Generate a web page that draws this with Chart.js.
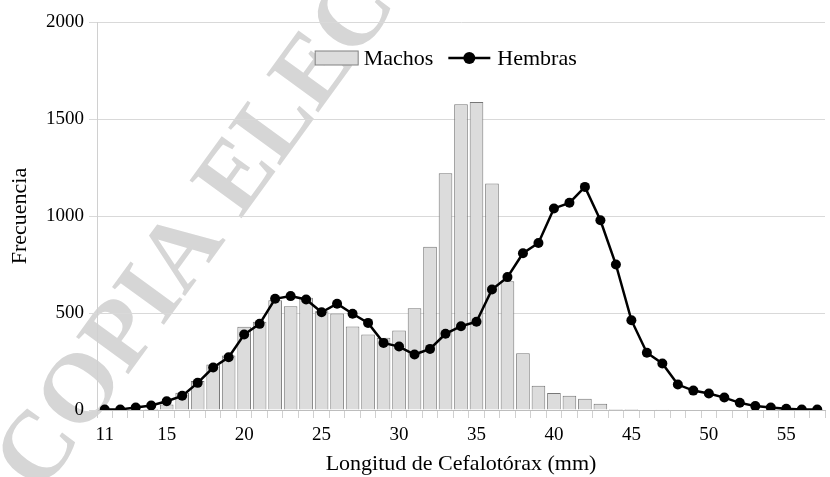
<!DOCTYPE html>
<html>
<head>
<meta charset="utf-8">
<script src="https://cdn.jsdelivr.net/npm/chart.js@4/dist/chart.umd.min.js"></script>
<style>
html,body{margin:0;padding:0;background:#fff;}
#wrap{width:830px;height:477px;position:relative;}
</style>
</head>
<body>
<div id="wrap"><canvas id="c" width="830" height="477"></canvas></div>
<script>
const categories = [11,12,13,14,15,16,17,18,19,20,21,22,23,24,25,26,27,28,29,30,31,32,33,34,35,36,37,38,39,40,41,42,43,44,45,46,47,48,49,50,51,52,53,54,55,56,57];
const machos = [0,0,0,5,28,89,149,235,281,429,455,566,535,578,509,497,430,389,372,410,525,841,1221,1576,1588,1168,664,293,125,88,73,58,32,5,5,0,4,0,0,0,0,0,0,0,0,0,0];
const hembras = [2,3,13,23,45,73,140,219,272,389,444,573,587,570,504,548,496,449,346,327,286,315,393,432,455,621,685,808,861,1039,1068,1150,978,750,463,295,240,131,100,85,64,37,20,13,6,3,2];
const xTickLabels = ['11','15','20','25','30','35','40','45','50','55'];
const seriesNames = ['Machos','Hembras'];
const xTitle = 'Longitud de Cefalotórax (mm)';
const yTitle = 'Frecuencia';
const watermark = 'COPIA ELECTRÓNICA';

const SERIF = "'Liberation Serif', 'Times New Roman', serif";

const watermarkPlugin = {
  id: 'watermark',
  beforeDraw(chart){
    const ctx = chart.ctx;
    ctx.save();
    ctx.translate(20, 480);
    ctx.rotate(-54 * Math.PI / 180);
    ctx.font = "bold 98px " + SERIF;
    ctx.fillStyle = '#d6d6d6';
    ctx.textBaseline = 'middle';
    ctx.textAlign = 'left';
    ctx.fillText(watermark, 0, 0);
    ctx.restore();
  }
};

const legendPlugin = {
  id: 'customLegend',
  afterDatasetsDraw(chart){
    const ctx = chart.ctx;
    const ca = chart.chartArea;
    ctx.save();
    ctx.font = "22px " + SERIF;
    const w1 = ctx.measureText(seriesNames[0]).width;
    const w2 = ctx.measureText(seriesNames[1]).width;
    const total = 44 + 5 + w1 + 15 + 42 + 7 + w2;
    const cx = ca.left + (ca.right - ca.left) * 0.479;
    let x = cx - total / 2;
    const cy = ca.top + 36;
    ctx.fillStyle = '#dcdcdc';
    ctx.fillRect(x + 0.5, cy - 7, 43, 14);
    ctx.strokeStyle = '#808080';
    ctx.lineWidth = 1;
    ctx.strokeRect(x + 0.5, cy - 7, 43, 14);
    x += 44 + 5;
    ctx.fillStyle = '#000';
    ctx.textBaseline = 'middle';
    ctx.textAlign = 'left';
    ctx.fillText(seriesNames[0], x, cy + 1);
    x += w1 + 15;
    ctx.strokeStyle = '#000';
    ctx.lineWidth = 2.5;
    ctx.beginPath(); ctx.moveTo(x, cy); ctx.lineTo(x + 42, cy); ctx.stroke();
    ctx.beginPath(); ctx.arc(x + 21, cy, 6, 0, Math.PI * 2); ctx.fill();
    x += 42 + 7;
    ctx.fillText(seriesNames[1], x, cy + 1);
    ctx.restore();
  }
};

new Chart(document.getElementById('c'), {
  data: {
    labels: categories,
    datasets: [
      {
        type: 'line',
        label: seriesNames[1],
        data: hembras,
        borderColor: '#000',
        backgroundColor: '#000',
        borderWidth: 2.5,
        pointRadius: 5,
        pointHoverRadius: 5,
        pointBackgroundColor: '#000',
        pointBorderWidth: 0,
        tension: 0,
        order: 0
      },
      {
        type: 'bar',
        label: seriesNames[0],
        data: machos,
        backgroundColor: '#dcdcdc',
        borderColor: '#777777',
        borderWidth: 1,
        categoryPercentage: 1,
        barPercentage: 0.88,
        order: 1
      }
    ]
  },
  options: {
    responsive: false,
    animation: false,
    layout: { padding: { top: 22, right: 4, left: 0, bottom: 0 } },
    plugins: {
      tooltip: { enabled: false },
      legend: { display: false }
    },
    scales: {
      x: {
        type: 'category',
        offset: true,
        grid: {
          display: true,
          drawOnChartArea: false,
          drawTicks: true,
          tickLength: 8,
          offset: true,
          color: '#d0d0d0'
        },
        border: { display: true, color: '#bdbdbd', width: 1 },
        ticks: {
          autoSkip: false,
          maxRotation: 0,
          padding: 6,
          color: '#000',
          font: { family: SERIF, size: 19 },
          callback(val, idx){
            const s = String(categories[idx]);
            return xTickLabels.includes(s) ? s : '';
          }
        },
        title: {
          display: true,
          text: xTitle,
          color: '#000',
          font: { family: SERIF, size: 22 },
          padding: { top: 0, bottom: 0 }
        },
        afterFit(scale){ scale.height = 67; }
      },
      y: {
        min: 0,
        max: 2000,
        grid: { color: '#d9d9d9', lineWidth: 1, tickLength: 8 },
        border: { display: true, color: '#d0d0d0' },
        ticks: {
          stepSize: 500,
          padding: 5,
          color: '#000',
          font: { family: SERIF, size: 19 },
          callback(val){ return String(val); }
        },
        title: {
          display: true,
          text: yTitle,
          color: '#000',
          font: { family: SERIF, size: 22 },
          padding: { top: 7, bottom: 0 }
        },
        afterFit(scale){ scale.width = 97; }
      }
    }
  },
  plugins: [watermarkPlugin, legendPlugin]
});
</script>
</body>
</html>
